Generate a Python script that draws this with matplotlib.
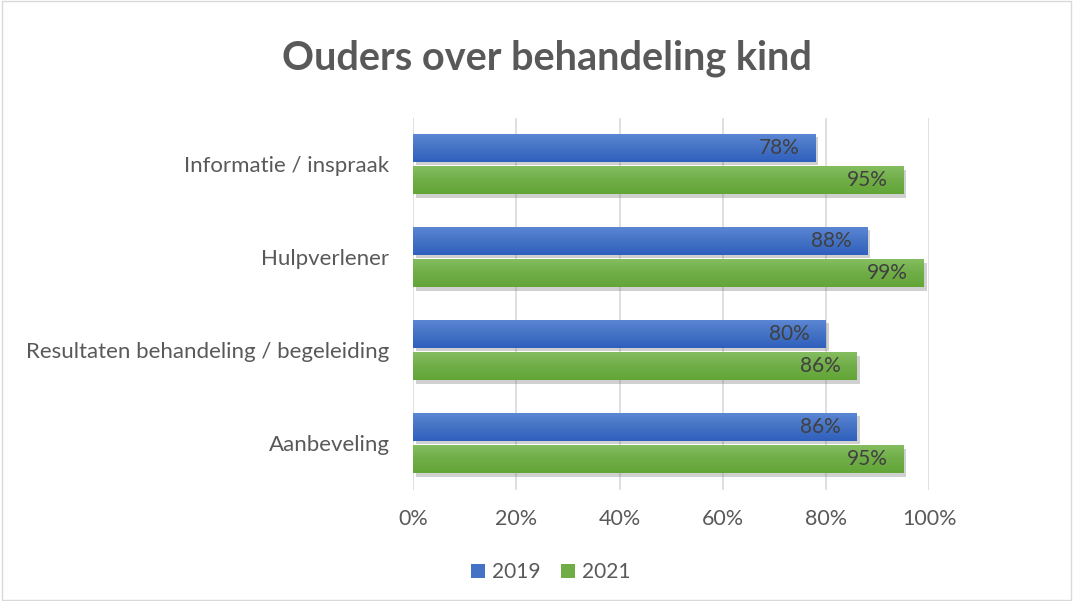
import numpy as np
import matplotlib
matplotlib.use("Agg")
import matplotlib.pyplot as plt
import matplotlib.patheffects as pe
from matplotlib.colors import LinearSegmentedColormap
from matplotlib.patches import Rectangle

plt.rcParams["font.family"] = ["Lato", "DejaVu Sans"]

categories = [
    "Informatie / inspraak",
    "Hulpverlener",
    "Resultaten behandeling / begeleiding",
    "Aanbeveling",
]
values_2019 = [78, 88, 80, 86]
values_2021 = [95, 99, 86, 95]
series_names = ["2019", "2021"]

BLUE = "#4472C4"
GREEN = "#70AD47"
TEXT = "#595959"

# light at the top, darker at the bottom, like the Office bar fill
blue_fill = LinearSegmentedColormap.from_list("b", ["#5B86D4", "#4472C4", "#2F60BE"])
green_fill = LinearSegmentedColormap.from_list("g", ["#84BD60", "#70AD47", "#62A637"])

fig = plt.figure(figsize=(10.73, 6.01), dpi=100)
ax = fig.add_axes([0.385, 0.185, 0.481, 0.619])

y = np.arange(len(categories))
height = 0.30
shadow = [pe.SimplePatchShadow(offset=(2, -2.5), shadow_rgbFace="#7a7a7a", alpha=0.35), pe.Normal()]

bars_a = ax.barh(y - 0.18, values_2019, height, color=BLUE, label=series_names[0], zorder=3)
bars_b = ax.barh(y + 0.17, values_2021, height, color=GREEN, label=series_names[1], zorder=3)

grad = np.linspace(0, 1, 64).reshape(-1, 1)
for bars, cmap in ((bars_a, blue_fill), (bars_b, green_fill)):
    for b in bars:
        b.set_path_effects(shadow)
        x0, y0 = b.get_x(), b.get_y()
        im = ax.imshow(grad, cmap=cmap, aspect="auto", zorder=3.5,
                       extent=(x0, x0 + b.get_width(), y0 + b.get_height(), y0),
                       origin="upper")
        im.set_clip_path(b)

for bars, vals in ((bars_a, values_2019), (bars_b, values_2021)):
    for b, v in zip(bars, vals):
        ax.text(v - 3.1, b.get_y() + b.get_height() / 2, f"{v}%", ha="right", va="center",
                fontsize=15, color="#404040", zorder=4)

ax.set_xlim(0, 100)
ax.set_ylim(3.5, -0.5)
ax.set_xticks(np.arange(0, 101, 20))
ax.set_xticklabels([f"{t}%" for t in range(0, 101, 20)], fontsize=15.5, color=TEXT)
ax.set_yticks(y)
ax.set_yticklabels(categories, fontsize=16, color=TEXT)
ax.tick_params(length=0)
ax.tick_params(axis="x", pad=14)
ax.tick_params(axis="y", pad=17)
ax.grid(axis="x", color="#d9d9d9", linewidth=1.2, zorder=0)
for s in ax.spines.values():
    s.set_visible(False)

fig.text(0.51, 0.903, "Ouders over behandeling kind", ha="center", va="center",
         fontsize=28.5, fontweight="bold", color=TEXT)

leg = fig.legend(loc="center", bbox_to_anchor=(0.513, 0.048), ncol=2, frameon=False,
                 fontsize=15, handlelength=0.7, handleheight=0.7, columnspacing=1.0,
                 handletextpad=0.3)
for t in leg.get_texts():
    t.set_color(TEXT)
for h in leg.legend_handles:
    h.set_path_effects([])

fig.patches.append(Rectangle((0.002, 0.002), 0.996, 0.996, transform=fig.transFigure,
                             fill=False, edgecolor="#d9d9d9", linewidth=1))

fig.savefig("out.png", dpi=100)
